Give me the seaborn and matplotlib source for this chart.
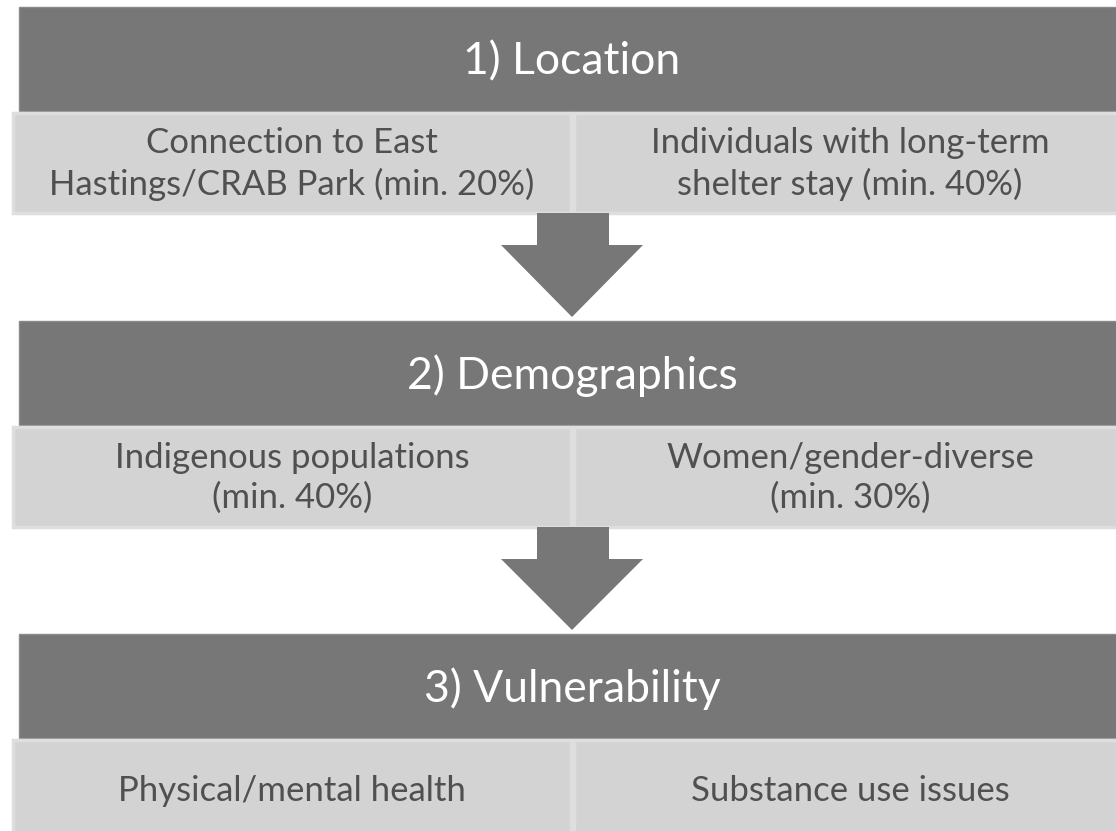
import matplotlib
matplotlib.use("Agg")
import matplotlib.pyplot as plt
from matplotlib.patches import Rectangle, Polygon
import seaborn as sns

# steps of the flow, top to bottom
steps = ["1) Location", "2) Demographics", "3) Vulnerability"]
left_items = ["Connection to East\nHastings/CRAB Park (min. 20%)",
              "Indigenous populations\n(min. 40%)",
              "Physical/mental health"]
right_items = ["Individuals with long-term\nshelter stay (min. 40%)",
               "Women/gender-diverse\n(min. 30%)",
               "Substance use issues"]

sns.set_theme(style="white")
plt.rcParams['font.family'] = ['Lato', 'DejaVu Sans']

dark = "#777777"
light = "#d3d3d3"
text_grey = "#505050"

fig = plt.figure(figsize=(11.16, 8.31), dpi=100)
ax = fig.add_axes([0, 0, 1, 1])
ax.set_xlim(0, 1116)
ax.set_ylim(831, 0)
ax.axis("off")

# layout in pixel units
header_tops = [7, 321, 634]
header_h = 104
box_h = 100
mid = 572

for i, step in enumerate(steps):
    top = header_tops[i]
    ax.add_patch(Rectangle((19, top), 1120, header_h, facecolor=dark,
                           edgecolor="#8a8a8a", lw=1))
    ax.text(mid, top + header_h / 2 + 3, step, color="white", fontsize=32,
            ha="center", va="center")

    btop = top + header_h + 2
    ax.add_patch(Rectangle((13, btop), mid - 13 - 1, box_h, facecolor=light,
                           edgecolor="#dedede", lw=2.5))
    ax.add_patch(Rectangle((mid + 2, btop), 1140, box_h, facecolor=light,
                           edgecolor="#dedede", lw=2.5))
    ax.text(292, btop + box_h / 2 + 1, left_items[i], color=text_grey,
            fontsize=25, ha="center", va="center", linespacing=1.3)
    ax.text(850, btop + box_h / 2 + 1, right_items[i], color=text_grey,
            fontsize=25, ha="center", va="center", linespacing=1.3)

    # down arrow to the next step
    if i < len(steps) - 1:
        a0 = btop + box_h
        nxt = header_tops[i + 1]
        neck = a0 + 32
        ax.add_patch(Polygon([(537, a0), (609, a0), (609, neck), (643, neck),
                              (mid, nxt - 4), (501, neck), (537, neck)],
                             closed=True, facecolor=dark, edgecolor="none"))

fig.savefig("out.png", dpi=100)
